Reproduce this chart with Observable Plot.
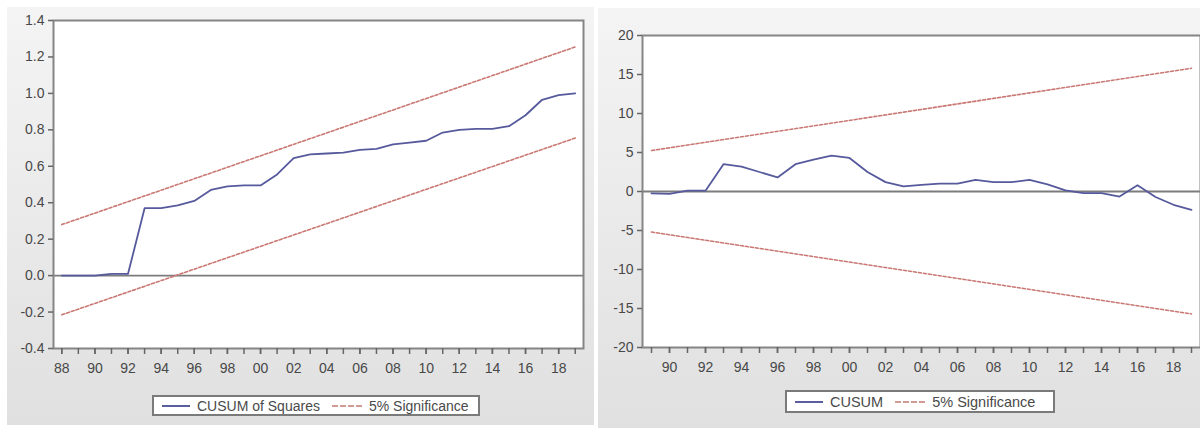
<!DOCTYPE html>
<html>
<head>
<meta charset="utf-8">
<script src="https://cdn.jsdelivr.net/npm/d3@7"></script>
<script src="https://cdn.jsdelivr.net/npm/@observablehq/plot@0.6"></script>
<style>
  html, body { margin: 0; padding: 0; background: #ffffff; }
  #wrap { position: relative; width: 1200px; height: 428px; overflow: hidden; font-family: "Liberation Sans", Arial, sans-serif; }
  .panel { position: absolute; background: linear-gradient(#f4f4f4, #e0e0e0); }
  .plot { position: absolute; top: 0; }
  .legend { position: absolute; box-sizing: border-box; border: 2px solid #7a7a7a; background: #ffffff;
            display: flex; align-items: center; color: #4a4a4a; white-space: nowrap; }
  .sw { display: inline-block; height: 0; margin-right: 7px; }
  .item { display: inline-flex; align-items: center; margin-right: 12px; }
</style>
</head>
<body>
<div id="wrap">
  <div class="panel" style="left:7px; top:7px; width:587px; height:418px;"></div>
  <div class="panel" style="left:598px; top:8px; width:602px; height:420px;"></div>
  <div id="left" class="plot" style="left:0px;"></div>
  <div id="right" class="plot" style="left:598px;"></div>
  <div class="legend" style="left:152px; top:395px; width:328px; height:21px; font-size:14px; padding-left:8px;">
    <span class="item"><span class="sw" style="width:28px; border-top:2px solid #5b5e9e;"></span>CUSUM of Squares</span>
    <span class="item"><span class="sw" style="width:30px; border-top:2px dashed #d49a96;"></span>5% Significance</span>
  </div>
  <div class="legend" style="left:785px; top:390px; width:270px; height:23px; font-size:14.5px; padding-left:8px;">
    <span class="item"><span class="sw" style="width:28px; border-top:2px solid #5b5e9e;"></span>CUSUM</span>
    <span class="item"><span class="sw" style="width:30px; border-top:2px dashed #d49a96;"></span>5% Significance</span>
  </div>
</div>
<script>
// ---- CUSUM of Squares (left) ----
const sqYears = [1988,1989,1990,1991,1992,1993,1994,1995,1996,1997,1998,1999,2000,2001,2002,2003,2004,2005,2006,2007,2008,2009,2010,2011,2012,2013,2014,2015,2016,2017,2018,2019];
const sqValues = [0.00,0.00,0.00,0.01,0.01,0.37,0.37,0.385,0.41,0.47,0.49,0.495,0.495,0.555,0.645,0.665,0.67,0.675,0.69,0.695,0.72,0.73,0.74,0.785,0.80,0.805,0.805,0.82,0.88,0.965,0.99,1.00];
const sqBoundYears = [1988, 2019];
const sqUpper = [0.28, 1.255];
const sqLower = [-0.215, 0.755];
const sqYTicks = [-0.4,-0.2,0.0,0.2,0.4,0.6,0.8,1.0,1.2,1.4];
const sqXTickYears = [1988,1989,1990,1991,1992,1993,1994,1995,1996,1997,1998,1999,2000,2001,2002,2003,2004,2005,2006,2007,2008,2009,2010,2011,2012,2013,2014,2015,2016,2017,2018,2019];
const sqXLabelYears = [1988,1990,1992,1994,1996,1998,2000,2002,2004,2006,2008,2010,2012,2014,2016,2018];

// ---- CUSUM (right) ----
const cuYears = [1989,1990,1991,1992,1993,1994,1995,1996,1997,1998,1999,2000,2001,2002,2003,2004,2005,2006,2007,2008,2009,2010,2011,2012,2013,2014,2015,2016,2017,2018,2019];
const cuValues = [-0.25,-0.3,0.1,0.1,3.5,3.2,2.5,1.8,3.5,4.1,4.6,4.3,2.5,1.2,0.65,0.85,1.0,1.0,1.5,1.2,1.2,1.5,0.9,0.15,-0.2,-0.2,-0.65,0.8,-0.7,-1.7,-2.35];
const cuBoundYears = [1989, 2019];
const cuUpper = [5.25, 15.8];
const cuLower = [-5.2, -15.7];
const cuYTicks = [-20,-15,-10,-5,0,5,10,15,20];
const cuXTickYears = [1989,1990,1991,1992,1993,1994,1995,1996,1997,1998,1999,2000,2001,2002,2003,2004,2005,2006,2007,2008,2009,2010,2011,2012,2013,2014,2015,2016,2017,2018,2019];
const cuXLabelYears = [1990,1992,1994,1996,1998,2000,2002,2004,2006,2008,2010,2012,2014,2016,2018];

const lineColor = "#565a9c";
const sigColor = "#c97873";
const axisColor = "#484848";
const yy = d => String(d % 100).padStart(2, "0");

function panel({years, values, bYears, upper, lower, yTicks, xTicks, xLabels, xDomain, yDomain, yFmt,
                width, height, mL, mR, mT, mB}) {
  const main = years.map((y, i) => ({year: y, v: values[i]}));
  const up = bYears.map((y, i) => ({year: y, v: upper[i]}));
  const lo = bYears.map((y, i) => ({year: y, v: lower[i]}));
  return Plot.plot({
    width, height,
    marginLeft: mL, marginRight: mR, marginTop: mT, marginBottom: mB,
    style: {background: "transparent", fontFamily: "'Liberation Sans', Arial, sans-serif", fontSize: "14px", color: axisColor, overflow: "visible"},
    x: {domain: xDomain},
    y: {domain: yDomain},
    marks: [
      Plot.frame({fill: "#ffffff", stroke: "none"}),
      Plot.ruleY([0], {stroke: "#7c7c7c", strokeWidth: 1.8}),
      Plot.line(up, {x: "year", y: "v", stroke: sigColor, strokeWidth: 1.6, strokeDasharray: "3,2"}),
      Plot.line(lo, {x: "year", y: "v", stroke: sigColor, strokeWidth: 1.6, strokeDasharray: "3,2"}),
      Plot.line(main, {x: "year", y: "v", stroke: lineColor, strokeWidth: 1.8}),
      Plot.frame({stroke: "#858585", strokeWidth: 2}),
      Plot.axisY({ticks: yTicks, tickFormat: yFmt, tickSize: 5, tickPadding: 4, label: null, stroke: "#666", strokeWidth: 1.5, fill: axisColor}),
      Plot.axisX({ticks: xTicks, tickFormat: () => "", tickSize: 6, label: null, stroke: "#666", strokeWidth: 1.5}),
      Plot.axisX({ticks: xLabels, tickFormat: yy, tickSize: 6, tickPadding: 9, label: null, stroke: "#666", strokeWidth: 1.5, fill: axisColor})
    ]
  });
}

document.getElementById("left").append(panel({
  years: sqYears, values: sqValues, bYears: sqBoundYears, upper: sqUpper, lower: sqLower,
  yTicks: sqYTicks, xTicks: sqXTickYears, xLabels: sqXLabelYears,
  xDomain: [1987.5, 2019.5], yDomain: [-0.4, 1.4], yFmt: d => d.toFixed(1),
  width: 595, height: 390, mL: 53, mR: 12, mT: 20, mB: 42
}));

document.getElementById("right").append(panel({
  years: cuYears, values: cuValues, bYears: cuBoundYears, upper: cuUpper, lower: cuLower,
  yTicks: cuYTicks, xTicks: cuXTickYears, xLabels: cuXLabelYears,
  xDomain: [1988.5, 2019.5], yDomain: [-20, 20], yFmt: d => String(d),
  width: 602, height: 390, mL: 44, mR: 0, mT: 35, mB: 43
}));
</script>
</body>
</html>
